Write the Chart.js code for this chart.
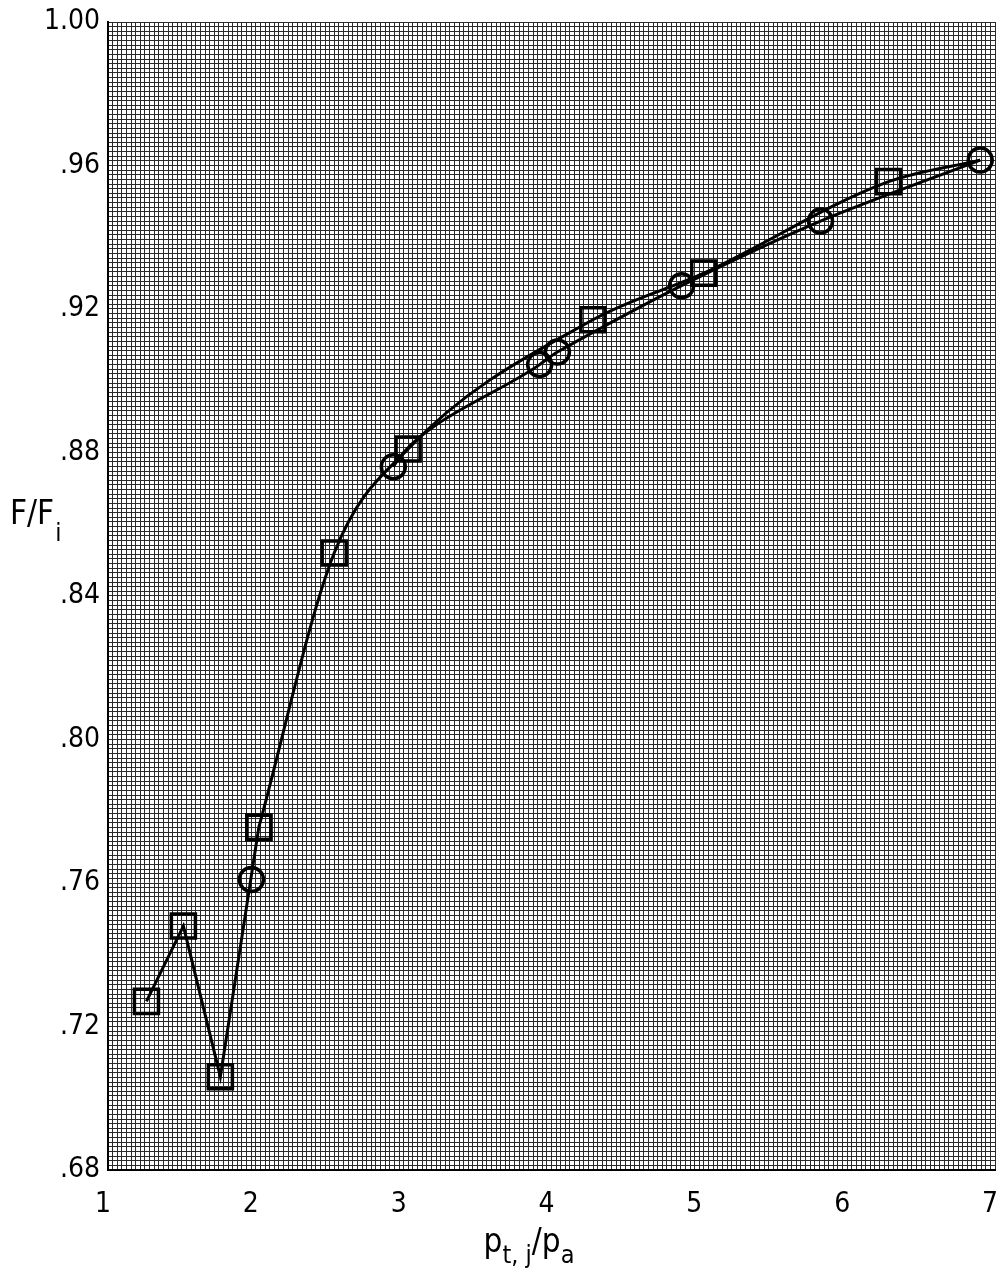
<!DOCTYPE html>
<html>
<head>
<meta charset="utf-8">
<title>F/Fi versus pt,j/pa</title>
<script src="https://cdn.jsdelivr.net/npm/chart.js@4/dist/chart.umd.min.js"></script>
<style>
  html, body { margin: 0; padding: 0; background: #ffffff; }
  #wrap { width: 996px; height: 1281px; }
</style>
</head>
<body>
<div id="wrap"><canvas id="chart" width="996" height="1281"></canvas></div>
<script>
// Nozzle pressure ratio (x) and thrust ratio F/Fi (y)
const circleX = [1.97, 2.93, 3.92, 4.04, 4.88, 5.82, 6.90];
const circleY = [0.761, 0.876, 0.9045, 0.908, 0.9265, 0.9445, 0.9615];
const squareX = [1.26, 1.51, 1.76, 2.02, 2.53, 3.03, 4.28, 5.03, 6.28, 6.90];
const squareY = [0.727, 0.748, 0.706, 0.7755, 0.852, 0.881, 0.917, 0.930, 0.9555, 0.9615];

// Axis ranges and labelled ticks
const xMin = 1, xMax = 7;
const yMin = 0.68, yMax = 1.00;
const xTickLabels = ['1', '2', '3', '4', '5', '6', '7'];
const yTickLabels = ['.68', '.72', '.76', '.80', '.84', '.88', '.92', '.96', '1.00'];

// Graph-paper ruling: divisions per labelled interval
const xDivs = 32;
const yDivs = 31;

const FONT = "'DejaVu Sans Condensed', 'Liberation Sans Narrow', 'DejaVu Sans', sans-serif";

const pts = (xs, ys) => xs.map((x, i) => ({ x: x, y: ys[i] }));
const splitAt = 3; // low-pressure squares joined by straight segments

const xGrid = [];
for (let k = 0; k <= (xMax - xMin) * xDivs; k++) xGrid.push(xMin + k / xDivs);
const yGrid = [];
for (let k = 0; k <= (yTickLabels.length - 1) * yDivs; k++) yGrid.push(yMin + k * 0.04 / yDivs);

// Axis titles with subscripts
const titlePlugin = {
  id: 'axisTitles',
  afterDraw(chart) {
    const ctx = chart.ctx;
    ctx.save();
    ctx.fillStyle = '#000';
    ctx.textBaseline = 'alphabetic';
    const big = '33px ' + FONT, small = '25px ' + FONT;
    // x title: p_{t, j}/p_a
    const parts = [
      { t: 'p', f: big, dy: 0 },
      { t: 't, j', f: small, dy: 11 },
      { t: '/p', f: big, dy: 0 },
      { t: 'a', f: small, dy: 11 }
    ];
    let w = 0;
    parts.forEach(p => { ctx.font = p.f; w += ctx.measureText(p.t).width; });
    let x = 529 - w / 2;
    const base = 1252;
    parts.forEach(p => {
      ctx.font = p.f;
      ctx.fillText(p.t, x, base + p.dy);
      x += ctx.measureText(p.t).width;
    });
    // y title: F/F_i
    ctx.font = big;
    ctx.fillText('F/F', 10, 524);
    const fw = ctx.measureText('F/F').width;
    ctx.font = small;
    ctx.fillText('i', 10 + fw + 1, 541);
    ctx.restore();
  }
};

new Chart(document.getElementById('chart'), {
  type: 'scatter',
  data: {
    datasets: [
      {
        label: 'squares-low',
        data: pts(squareX.slice(0, splitAt + 1), squareY.slice(0, splitAt + 1)),
        showLine: true,
        tension: 0,
        borderColor: '#000',
        borderWidth: 3,
        pointStyle: 'rect',
        pointRadius: 17,
        pointBorderWidth: 3.5,
        pointBorderColor: '#000',
        pointBackgroundColor: 'rgba(255,255,255,0)'
      },
      {
        label: 'squares',
        data: pts(squareX.slice(splitAt), squareY.slice(splitAt)),
        showLine: true,
        cubicInterpolationMode: 'monotone',
        borderColor: '#000',
        borderWidth: 3,
        pointStyle: 'rect',
        pointRadius: ctx => (ctx.dataIndex === squareX.length - splitAt - 1 ? 0 : 17),
        pointBorderWidth: 3.5,
        pointBorderColor: '#000',
        pointBackgroundColor: 'rgba(255,255,255,0)'
      },
      {
        label: 'circles',
        data: pts(circleX, circleY),
        showLine: true,
        tension: 0.3,
        borderColor: '#000',
        borderWidth: 3,
        segment: {
          borderColor: ctx => (ctx.p0DataIndex === 0 ? 'rgba(0,0,0,0)' : undefined)
        },
        pointStyle: 'circle',
        pointRadius: 12,
        pointBorderWidth: 3.5,
        pointBorderColor: '#000',
        pointBackgroundColor: 'rgba(255,255,255,0)'
      }
    ]
  },
  options: {
    responsive: false,
    devicePixelRatio: 1,
    animation: false,
    events: [],
    clip: false,
    layout: { autoPadding: false, padding: { top: 22, right: 1, left: 0, bottom: 0 } },
    plugins: {
      legend: { display: false },
      tooltip: { enabled: false },
      title: { display: false }
    },
    scales: {
      x: {
        type: 'linear',
        min: xMin,
        max: xMax,
        afterBuildTicks: s => { s.ticks = xGrid.map(v => ({ value: v })); },
        afterFit: s => { s.height = 111; s.paddingLeft = 0; s.paddingRight = 0; },
        grid: { color: '#2a2a2a', lineWidth: 1, drawTicks: false },
        border: { display: true, color: '#000', width: 2 },
        ticks: {
          autoSkip: false,
          maxRotation: 0,
          minRotation: 0,
          padding: 18,
          labelOffset: -5,
          color: '#000',
          font: { family: FONT, size: 28 },
          callback: (v, i) => (i % xDivs === 0 ? xTickLabels[i / xDivs] : '')
        }
      },
      y: {
        type: 'linear',
        min: yMin,
        max: yMax,
        afterBuildTicks: s => { s.ticks = yGrid.map(v => ({ value: v })); },
        afterFit: s => { s.width = 108; s.paddingTop = 0; s.paddingBottom = 0; },
        grid: { color: '#2a2a2a', lineWidth: 1, drawTicks: false },
        border: { display: true, color: '#000', width: 2 },
        ticks: {
          autoSkip: false,
          padding: 8,
          color: '#000',
          font: { family: FONT, size: 28 },
          callback: (v, i) => (i % yDivs === 0 ? yTickLabels[i / yDivs] : '')
        }
      }
    }
  },
  plugins: [titlePlugin]
});
</script>
</body>
</html>
